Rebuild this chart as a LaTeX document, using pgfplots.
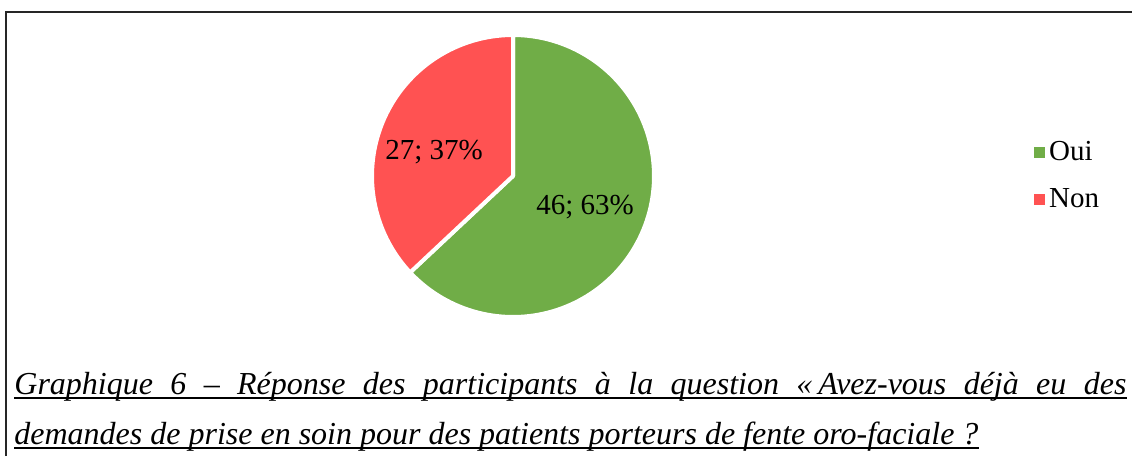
\documentclass[border=0pt]{standalone}
\usepackage{fontspec}
\setmainfont{Liberation Serif}
\usepackage{pgfplots}
\usepackage{pgfplotstable}
\pgfplotsset{compat=1.18}

\definecolor{ouigreen}{RGB}{112,173,71}
\definecolor{nonred}{RGB}{255,82,82}

% answers to the question
\pgfplotstableread{
answer count
Oui 46
Non 27
}\answers

\begin{document}%
\pgfplotstablegetelem{0}{count}\of\answers \let\nOui\pgfplotsretval%
\pgfplotstablegetelem{1}{count}\of\answers \let\nNon\pgfplotsretval%
\pgfmathsetmacro\total{\nOui+\nNon}%
\pgfmathsetmacro\aOui{360*(\nOui/\total)}%
\pgfmathtruncatemacro\pOui{round(100*(\nOui/\total))}%
\pgfmathtruncatemacro\pNon{round(100*(\nNon/\total))}%
\begin{tikzpicture}
\begin{axis}[
  scale only axis,
  width=566pt, height=228pt,
  xmin=0, xmax=1132, ymin=0, ymax=456,
  hide axis, clip=false,
  legend style={at={(axis cs:1034,280)}, anchor=west, draw=none, fill=none,
    font=\fontsize{14.5}{17}\selectfont, row sep=8.5pt, inner sep=0pt},
  legend cell align=left,
  legend image code/.code={\fill[#1,draw=none] (-1.6pt,-2.6pt) rectangle (3.8pt,2.6pt);},
]
\coordinate (ll) at (axis cs:0,0);
\coordinate (ur) at (axis cs:1132,456);
% frame (cropped on the right and bottom)
\draw[black!85, line width=1pt] (axis cs:6,0) -- (axis cs:6,444) -- (axis cs:1132,444);

\addplot[fill=ouigreen, draw=white, line width=2pt, line join=round,
  domain={90-\aOui}:90, samples=120, variable=\t]
  ({513+141*cos(\t)}, {280+141*sin(\t)}) -- (axis cs:513,280) -- cycle;
\addlegendentry{Oui}
\addplot[fill=nonred, draw=white, line width=2pt, line join=round,
  domain=-270:{90-\aOui}, samples=80, variable=\t]
  ({513+141*cos(\t)}, {280+141*sin(\t)}) -- (axis cs:513,280) -- cycle;
\addlegendentry{Non}

\node[font=\fontsize{14.5}{17}\selectfont] at (axis cs:585,249) {\nOui; \pOui\%};
\node[font=\fontsize{14.5}{17}\selectfont] at (axis cs:434,304) {\nNon; \pNon\%};

% caption, underlined
\node (c1) [anchor=base west, inner sep=0pt, font=\fontsize{16}{18}\selectfont\itshape]
  at (axis cs:14,62)
  {\makebox[556pt][s]{Graphique 6 – Réponse des participants à la question «\kern3pt Avez-vous déjà eu des}};
\node (c2) [anchor=base west, inner sep=0pt, font=\fontsize{16}{18}\selectfont\itshape]
  at (axis cs:14,12)
  {demandes de prise en soin pour des patients porteurs de fente oro-faciale ?};
\draw[line width=0.9pt] ([yshift=-1.8pt]c1.base west) -- ([yshift=-1.8pt]c1.base east);
\draw[line width=0.9pt] ([yshift=-1.8pt]c2.base west) -- ([yshift=-1.8pt]c2.base east);
\end{axis}
\pgfresetboundingbox
\path (ll) rectangle (ur);
\end{tikzpicture}%
\end{document}
